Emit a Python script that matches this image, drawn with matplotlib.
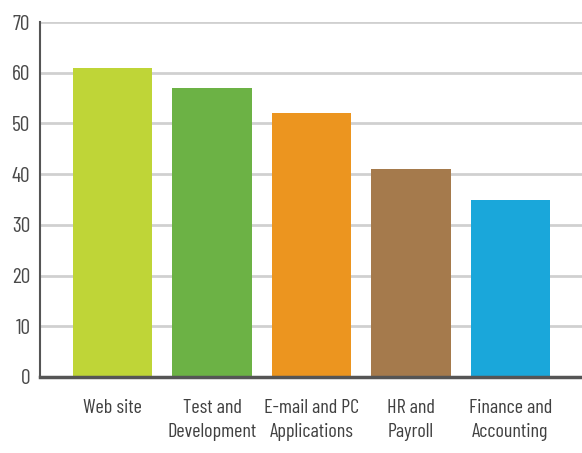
import matplotlib
matplotlib.use("Agg")
import matplotlib.pyplot as plt

categories = ["Web site", "Test and\nDevelopment", "E-mail and PC\nApplications", "HR and\nPayroll", "Finance and\nAccounting"]
values = [61, 57, 52, 41, 35]
colors = ["#bfd537", "#6cb245", "#ec951f", "#a57a4c", "#1aa7da"]
yticks = [0, 10, 20, 30, 40, 50, 60, 70]

xfam = ["Barlow Condensed", "DejaVu Sans"]
yfam = ["Barlow Condensed", "DejaVu Sans"]

fig = plt.figure(figsize=(5.82, 4.53), dpi=100)
ax = fig.add_axes([0.0687, 0.1678, 0.9313, 0.7836])
x = range(len(categories))
ax.bar(x, values, width=0.8, color=colors, zorder=3)
ax.set_xlim(-0.73, 4.72)
ax.set_ylim(0, 70)
ax.set_yticks(yticks)
ax.set_yticklabels([str(t) for t in yticks], fontfamily=yfam, fontsize=15.5, color="#4a4a4a")
ax.set_xticks(list(x))
ax.set_xticklabels(categories, fontfamily=xfam, fontsize=14.5, color="#404040", linespacing=1.4)
ax.tick_params(axis="x", length=0, pad=16)
ax.tick_params(axis="y", length=0, pad=7)
ax.grid(axis="y", color="#d0d0d0", linewidth=2, zorder=0)
for s in ["top", "right"]:
    ax.spines[s].set_visible(False)
ax.spines["left"].set_color("#555555")
ax.spines["left"].set_linewidth(1.5)
ax.spines["bottom"].set_color("#555555")
ax.spines["bottom"].set_linewidth(2.5)
ax.spines["bottom"].set_zorder(4)
fig.savefig("out.png", dpi=100)
